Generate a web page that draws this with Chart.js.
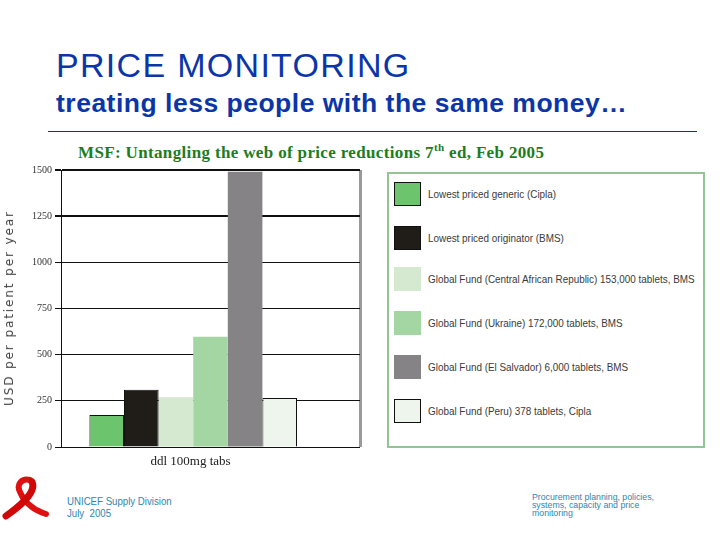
<!DOCTYPE html>
<html>
<head>
<meta charset="utf-8">
<script src="https://cdn.jsdelivr.net/npm/chart.js@4.4.1/dist/chart.umd.min.js"></script>
<style>
  body { margin: 0; width: 720px; height: 540px; background: #fff; position: relative; overflow: hidden; font-family: "Liberation Sans", Arial, sans-serif; }
  .abs { position: absolute; }
  #title { left: 56px; top: 45px; font-size: 34px; line-height: 40px; letter-spacing: 1.3px; color: #0b36a8; white-space: nowrap; }
  #subtitle { left: 56px; top: 87px; font-size: 26.5px; line-height: 32px; font-weight: bold; letter-spacing: 0.5px; color: #0b36a8; white-space: nowrap; }
  #rule { left: 48px; top: 131px; width: 649px; height: 1px; background: #1b2b8a; }
  #source { left: 78px; top: 142px; font-family: "Liberation Serif", serif; font-weight: bold; font-size: 17px; line-height: 22px; color: #1d7d1d; white-space: nowrap; letter-spacing: 0.35px; }
  #source sup { font-size: 11px; line-height: 0; }
  #chartWrap { left: 0; top: 160px; width: 370px; height: 310px; }
  #ytitle { left: 9px; top: 308px; transform: translate(-50%, -50%) rotate(-90deg); font-family: "DejaVu Sans", sans-serif; font-size: 12px; letter-spacing: 1.9px; color: #444; white-space: nowrap; }
  #legend { left: 387px; top: 172px; width: 314px; height: 272px; border: 2px solid #93c493; }
  .row { position: absolute; left: 5px; height: 24px; display: flex; align-items: center; }
  .sw { width: 27px; height: 24px; box-sizing: border-box; flex: none; }
  .lt { margin-left: 7px; font-size: 11.5px; color: #3a3a3a; white-space: nowrap; transform: scaleX(0.86); transform-origin: left center; }
  .foot { color: #2b87b5; white-space: nowrap; transform: scaleX(0.92); transform-origin: left top; }
  #footL { left: 67px; top: 495px; font-size: 10.5px; line-height: 12px; }
  #footR { left: 532px; top: 493px; font-size: 9.5px; line-height: 8px; }
</style>
</head>
<body>
<div id="title" class="abs">PRICE MONITORING</div>
<div id="subtitle" class="abs">treating less people with the same money…</div>
<div id="rule" class="abs"></div>
<div id="source" class="abs">MSF: Untangling the web of price reductions 7<sup>th</sup> ed, Feb 2005</div>
<div id="chartWrap" class="abs"><canvas id="c" width="370" height="310"></canvas></div>
<div id="ytitle" class="abs">USD per patient per year</div>
<div id="legend" class="abs"></div>
<svg class="abs" style="left:0;top:476px" width="50" height="46" viewBox="0 0 50 46">
  <path d="M30 4 C22 2 16 8 20 16 C24 26 34 34 46 38" stroke="#e01010" stroke-width="6" fill="none" stroke-linecap="round"/>
  <path d="M32 6 C36 14 26 26 6 40" stroke="#d00808" stroke-width="7" fill="none" stroke-linecap="round"/>
</svg>
<div id="footL" class="abs foot">UNICEF Supply Division<br>July&nbsp; 2005</div>
<div id="footR" class="abs foot">Procurement planning, policies,<br>systems, capacity and price<br>monitoring</div>
<script>
// data
const categories = ['ddl 100mg tabs'];
const seriesNames = [
  'Lowest priced generic (Cipla)',
  'Lowest priced originator (BMS)',
  'Global Fund (Central African Republic) 153,000 tablets, BMS',
  'Global Fund (Ukraine) 172,000 tablets, BMS',
  'Global Fund (El Salvador) 6,000 tablets, BMS',
  'Global Fund (Peru) 378 tablets, Cipla'
];
const seriesValues = [173, 310, 269, 597, 1491, 265];
const seriesColors = ['#6cc46c', '#201c18', '#d5e9d0', '#a4d6a4', '#858385', '#eef5ec'];
const seriesBorders = ['#111', '#111', null, null, null, '#111'];
const yTicks = [0, 250, 500, 750, 1000, 1250, 1500];

const datasets = seriesNames.map((name, i) => ({
  label: name,
  data: [seriesValues[i]],
  backgroundColor: seriesColors[i],
  borderColor: seriesBorders[i] || seriesColors[i],
  borderWidth: seriesBorders[i] ? 1 : 0
}));
// empty slot so the group sits left of the category centre as in the original
datasets.push({ label: '', data: [null], backgroundColor: 'rgba(0,0,0,0)' });

new Chart(document.getElementById('c'), {
  type: 'bar',
  data: { labels: categories, datasets: datasets },
  options: {
    responsive: false,
    animation: false,
    layout: { padding: { top: 10, right: 10, left: 0, bottom: 0 } },
    plugins: { legend: { display: false }, tooltip: { enabled: false } },
    datasets: { bar: { categoryPercentage: 0.81, barPercentage: 1 } },
    scales: {
      x: {
        afterFit: s => { s.height = 23; },
        grid: {
          offset: true,
          color: ctx => ctx.index === 0 ? 'rgba(0,0,0,0)' : '#9a9a9a',
          lineWidth: 3,
          drawTicks: false
        },
        border: { display: false },
        ticks: { color: '#222', font: { family: 'Liberation Serif', size: 13 }, labelOffset: -20, padding: 7 }
      },
      y: {
        min: 0, max: 1500,
        afterFit: s => { s.width = 61; },
        afterBuildTicks: s => { s.ticks = yTicks.map(v => ({ value: v })); },
        grid: {
          color: '#111',
          lineWidth: ctx => ctx.tick && ctx.tick.value >= 1250 ? 2 : 1,
          tickLength: 6
        },
        border: { color: '#111', width: 1 },
        ticks: {
          color: '#333',
          font: { family: 'Liberation Serif', size: 10 },
          padding: 3,
          callback: v => String(v)
        }
      }
    }
  }
});

// legend built from the same arrays
const legend = document.getElementById('legend');
const rowTops = [8, 52, 93, 137, 181, 225];
seriesNames.forEach((name, i) => {
  const row = document.createElement('div');
  row.className = 'row';
  row.style.top = rowTops[i] + 'px';
  const sw = document.createElement('div');
  sw.className = 'sw';
  sw.style.background = seriesColors[i];
  if (seriesBorders[i]) sw.style.border = '1.5px solid ' + seriesBorders[i];
  const t = document.createElement('span');
  t.className = 'lt';
  t.textContent = name;
  row.appendChild(sw);
  row.appendChild(t);
  legend.appendChild(row);
});
</script>
</body>
</html>
